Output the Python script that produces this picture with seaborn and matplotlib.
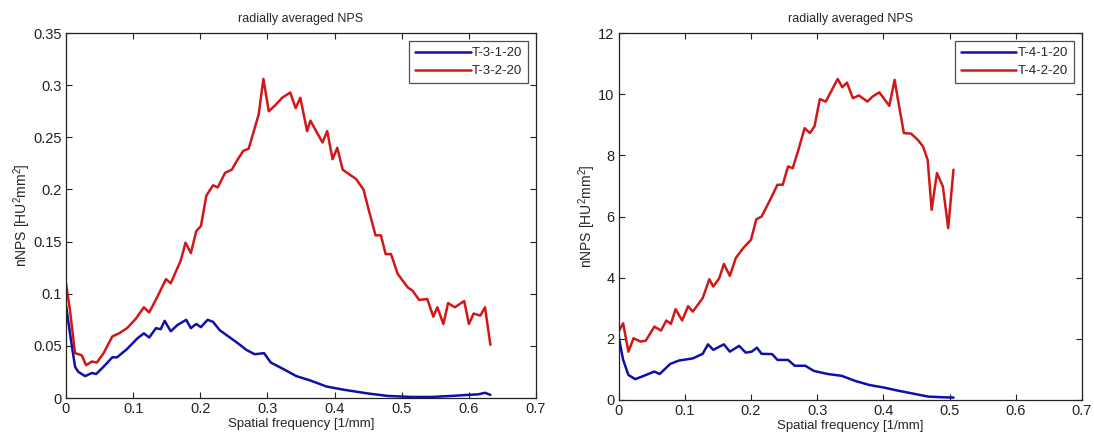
import matplotlib
matplotlib.use('Agg')
import matplotlib.pyplot as plt
import pandas as pd
import seaborn as sns

sns.set_style('white')
plt.rcParams['font.family'] = ['Liberation Sans', 'DejaVu Sans']
plt.rcParams['mathtext.default'] = 'regular'
plt.rcParams['xtick.direction'] = 'in'
plt.rcParams['ytick.direction'] = 'in'

# left panel: T-3 series
t31_x = [0, 0.006, 0.0135, 0.0185, 0.0286, 0.0386, 0.045, 0.056, 0.069, 0.076, 0.091, 0.106,
         0.116, 0.124, 0.134, 0.141, 0.147, 0.156, 0.166, 0.179, 0.186, 0.194, 0.201, 0.211,
         0.219, 0.229, 0.242, 0.257, 0.269, 0.281, 0.295, 0.305, 0.323, 0.343, 0.363, 0.388,
         0.413, 0.448, 0.479, 0.514, 0.544, 0.574, 0.599, 0.614, 0.624, 0.632]
t31_y = [0.089, 0.062, 0.030, 0.025, 0.021, 0.024, 0.023, 0.030, 0.039, 0.039, 0.047, 0.057,
         0.062, 0.058, 0.067, 0.066, 0.074, 0.064, 0.070, 0.075, 0.067, 0.071, 0.068, 0.075,
         0.073, 0.065, 0.059, 0.052, 0.046, 0.042, 0.043, 0.034, 0.028, 0.021, 0.017, 0.011,
         0.008, 0.0045, 0.002, 0.001, 0.001, 0.002, 0.003, 0.0035, 0.005, 0.003]

t32_x = [0, 0.006, 0.0135, 0.0235, 0.030, 0.0386, 0.046, 0.056, 0.069, 0.079, 0.091, 0.104,
         0.116, 0.124, 0.136, 0.149, 0.156, 0.171, 0.178, 0.186, 0.194, 0.201, 0.209, 0.219,
         0.226, 0.237, 0.247, 0.254, 0.264, 0.272, 0.287, 0.294, 0.302, 0.312, 0.322, 0.334,
         0.342, 0.349, 0.359, 0.364, 0.382, 0.389, 0.397, 0.404, 0.412, 0.432, 0.443, 0.451,
         0.461, 0.469, 0.476, 0.484, 0.494, 0.509, 0.516, 0.526, 0.538, 0.547, 0.553, 0.562,
         0.569, 0.579, 0.593, 0.600, 0.607, 0.617, 0.624, 0.632]
t32_y = [0.110, 0.084, 0.043, 0.041, 0.0315, 0.035, 0.034, 0.043, 0.059, 0.062, 0.067, 0.076,
         0.087, 0.082, 0.097, 0.114, 0.110, 0.132, 0.149, 0.139, 0.160, 0.165, 0.194, 0.204,
         0.202, 0.216, 0.219, 0.227, 0.237, 0.239, 0.272, 0.306, 0.275, 0.281, 0.288, 0.293,
         0.278, 0.288, 0.256, 0.266, 0.245, 0.256, 0.229, 0.240, 0.219, 0.210, 0.200, 0.180,
         0.156, 0.156, 0.138, 0.138, 0.119, 0.106, 0.103, 0.094, 0.095, 0.078, 0.087, 0.071,
         0.091, 0.087, 0.093, 0.071, 0.081, 0.079, 0.087, 0.051]

# right panel: T-4 series
t41_x = [0, 0.0068, 0.0147, 0.025, 0.038, 0.054, 0.062, 0.078, 0.091, 0.112, 0.127, 0.135,
         0.143, 0.159, 0.168, 0.182, 0.192, 0.201, 0.209, 0.216, 0.232, 0.240, 0.256, 0.266,
         0.282, 0.295, 0.316, 0.337, 0.358, 0.379, 0.400, 0.421, 0.447, 0.468, 0.489, 0.506]
t41_y = [2.07, 1.31, 0.82, 0.68, 0.79, 0.93, 0.85, 1.18, 1.29, 1.36, 1.51, 1.82,
         1.64, 1.82, 1.58, 1.77, 1.55, 1.58, 1.71, 1.51, 1.50, 1.31, 1.31, 1.12,
         1.12, 0.95, 0.85, 0.79, 0.62, 0.49, 0.41, 0.31, 0.20, 0.11, 0.09, 0.08]

t42_x = [0, 0.0068, 0.0147, 0.0225, 0.033, 0.041, 0.054, 0.064, 0.072, 0.079, 0.086, 0.096,
         0.105, 0.112, 0.127, 0.137, 0.143, 0.152, 0.159, 0.168, 0.177, 0.188, 0.200, 0.208,
         0.216, 0.229, 0.240, 0.248, 0.256, 0.263, 0.271, 0.281, 0.289, 0.296, 0.304, 0.313,
         0.331, 0.338, 0.345, 0.354, 0.363, 0.376, 0.384, 0.394, 0.409, 0.417, 0.423, 0.431,
         0.442, 0.452, 0.460, 0.467, 0.473, 0.481, 0.490, 0.498, 0.506]
t42_y = [2.24, 2.51, 1.58, 2.02, 1.91, 1.94, 2.40, 2.27, 2.60, 2.49, 2.97, 2.60,
         3.07, 2.89, 3.33, 3.95, 3.71, 3.98, 4.45, 4.06, 4.64, 4.96, 5.24, 5.91,
         6.00, 6.55, 7.04, 7.04, 7.64, 7.58, 8.13, 8.89, 8.73, 8.95, 9.84, 9.76,
         10.50, 10.23, 10.38, 9.87, 9.96, 9.76, 9.93, 10.06, 9.62, 10.47, 9.71, 8.73,
         8.71, 8.51, 8.29, 7.85, 6.22, 7.42, 6.98, 5.62, 7.53]

blue = '#1010a8'
red = '#d01818'

fig = plt.figure(figsize=(10.94, 4.41), dpi=100)
ax1 = fig.add_axes([0.0603, 0.0975, 0.4297, 0.8275])
ax2 = fig.add_axes([0.5655, 0.093, 0.4234, 0.832])

panels = [
    (ax1, t31_x, t31_y, t32_x, t32_y, 'T-3-1-20', 'T-3-2-20', 0.35,
     [0, 0.05, 0.1, 0.15, 0.2, 0.25, 0.3, 0.35], ['0', '0.05', '0.1', '0.15', '0.2', '0.25', '0.3', '0.35']),
    (ax2, t41_x, t41_y, t42_x, t42_y, 'T-4-1-20', 'T-4-2-20', 12,
     [0, 2, 4, 6, 8, 10, 12], ['0', '2', '4', '6', '8', '10', '12']),
]

xt = [0, 0.1, 0.2, 0.3, 0.4, 0.5, 0.6, 0.7]
xtl = ['0', '0.1', '0.2', '0.3', '0.4', '0.5', '0.6', '0.7']

for ax, bx, by, rx, ry, lb, lr, ymax, yt, ytl in panels:
    sns.lineplot(x=bx, y=by, ax=ax, color=blue, lw=1.8, label=lb, sort=False)
    sns.lineplot(x=rx, y=ry, ax=ax, color=red, lw=1.8, label=lr, sort=False)
    ax.set_xlim(0, 0.7)
    ax.set_ylim(0, ymax)
    ax.set_xticks(xt)
    ax.set_xticklabels(xtl)
    ax.set_yticks(yt)
    ax.set_yticklabels(ytl)
    ax.tick_params(axis='both', which='both', direction='in', length=4, width=0.8,
                   top=True, right=True, bottom=True, left=True, labelsize=10.5, colors='#222222',
                   pad=3)
    for s in ax.spines.values():
        s.set_color('#222222')
        s.set_linewidth(0.9)
    ax.set_title('radially averaged NPS', fontsize=9, pad=8)
    ax.set_xlabel('Spatial frequency [1/mm]', fontsize=9.5, labelpad=1)
    ax.set_ylabel('nNPS [HU$^{2}$mm$^{2}$]', fontsize=10, labelpad=0)
    leg = ax.legend(loc='upper right', fontsize=9.5, frameon=True, fancybox=False,
                    edgecolor='#222222', handlelength=4.2, handletextpad=0.1,
                    borderaxespad=0.6, borderpad=0.45, labelspacing=0.45)
    leg.get_frame().set_linewidth(0.9)

fig.savefig('out.png', dpi=100, facecolor='white')
